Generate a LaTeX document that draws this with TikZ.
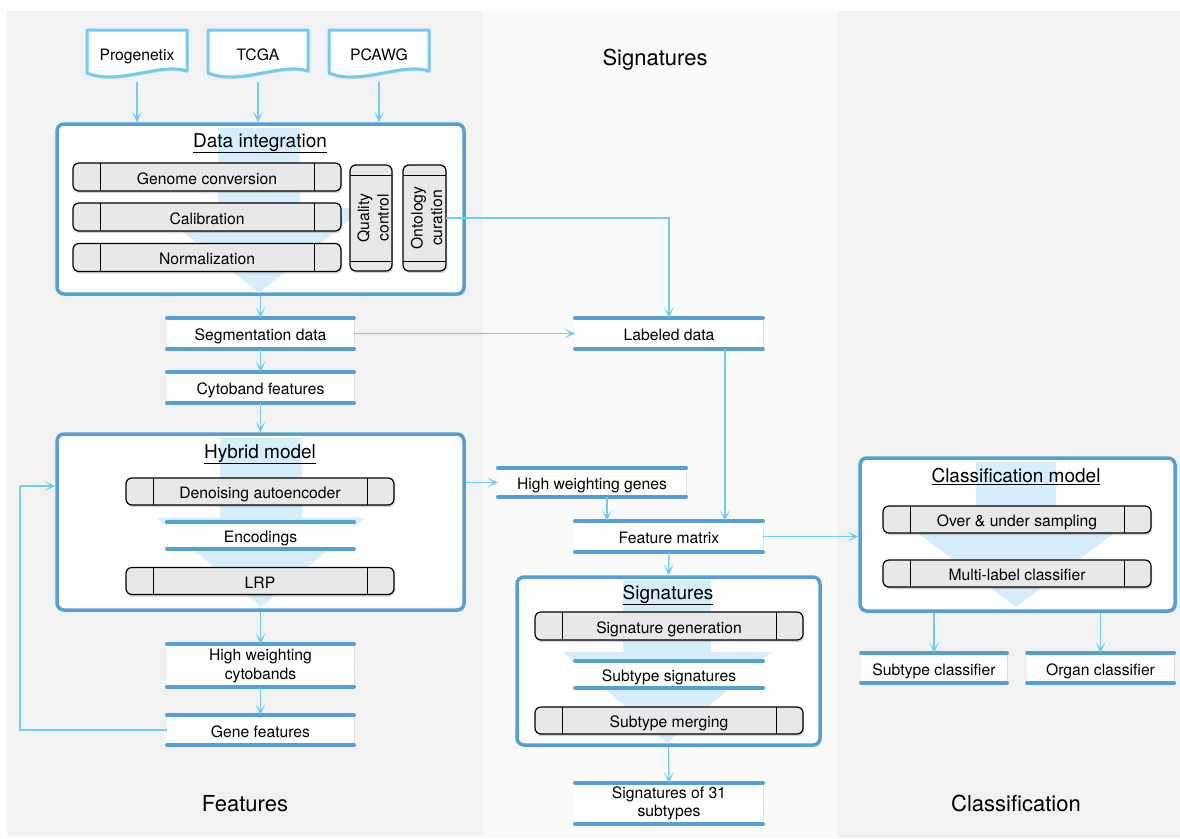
\documentclass[tikz,border=0pt]{standalone}
\usepackage{fontspec}
\setmainfont{TeX Gyre Heros}
\usetikzlibrary{arrows.meta,shadows,calc}

\definecolor{panelA}{RGB}{242,242,242}
\definecolor{panelB}{RGB}{250,250,250}
\definecolor{boxblue}{RGB}{84,160,212}
\definecolor{linkblue}{RGB}{112,204,246}
\definecolor{flowfill}{RGB}{214,237,251}
\definecolor{barfill}{RGB}{232,232,232}

\tikzset{
  base/.style={font=\fontsize{15.7}{19}\selectfont, inner sep=0pt},
  oneline/.style={text height=14pt, text depth=0pt},
  stage/.style={draw=boxblue, line width=3.5pt, fill=white, rounded corners=7pt,
    drop shadow={shadow xshift=1.5pt, shadow yshift=-2pt, opacity=0.25}},
  stagetitle/.style={font=\fontsize{19}{21}\selectfont, inner sep=0pt, anchor=base},
  procbar/.style={base, oneline, draw=black, line width=1.2pt, fill=barfill, rounded corners=6pt, outer sep=0pt,
    drop shadow={shadow xshift=1pt, shadow yshift=-2pt, opacity=0.35}},
  datum/.style={base, oneline, fill=white, minimum width=187pt, align=center, outer sep=0pt,
    drop shadow={shadow xshift=1pt, shadow yshift=-2pt, opacity=0.2}},
  twolines/.style={text height={}, text depth={}},
  innerdatum/.style={base, oneline, fill=white, minimum width=187pt, outer sep=0pt},
  barline/.style={boxblue, line width=4pt, line cap=round},
  link/.style={linkblue, line width=1.3pt, -{Stealth[length=11pt,width=10pt,inset=6.5pt]}},
  plainlink/.style={linkblue, line width=1.3pt},
  flow/.style={fill=flowfill},
  doc/.style={draw=linkblue, line width=3pt, fill=white, line join=round,
    drop shadow={shadow xshift=1pt, shadow yshift=-2pt, opacity=0.2}},
  panellabel/.style={font=\fontsize{22}{24}\selectfont, inner sep=0pt, anchor=base},
}

% big light-blue flow arrow: centre x, top y, shaft half width, shoulder y, head half width, tip y
\newcommand{\flowshape}[6]{%
  \fill[flow] (#1-#3,#2) -- (#1+#3,#2) -- (#1+#3,#4) -- (#1+#5,#4) -- (#1,#6)
    -- (#1-#5,#4) -- (#1-#3,#4) -- cycle;}

\begin{document}
\begin{tikzpicture}[x=1pt,y=-1pt]
\useasboundingbox (0,0) rectangle (1180,838);

% column backgrounds
\fill[panelA] (7,11) rectangle (483,836);
\fill[panelB] (483,11) rectangle (837,838);
\fill[panelA] (837,11) rectangle (1180,838);

\node[panellabel] (colsig) at (655,65) {Signatures};
\node[panellabel] (colfeat) at (245,811) {Features};
\node[panellabel] (colcls) at (1016,811) {Classification};

% data sources
\foreach \n/\x/\t in {prog/137/Progenetix, tcga/258/TCGA, pcawg/379/PCAWG} {
  \draw[doc] (\x-50,30) -- (\x+50,30) -- (\x+50,71)
     .. controls (\x+22,62) and (\x-18,86) .. (\x-50,73) -- cycle;
  \node[base, oneline, minimum width=100pt, minimum height=46pt] (\n) at (\x,53) {\t};
}

% stage boxes
\node[stage, minimum width=407pt, minimum height=170pt] (di)  at (260.5,209) {};
\node[stage, minimum width=407pt, minimum height=176pt] (hyb) at (260.5,522) {};
\node[stage, minimum width=303pt, minimum height=168pt] (sigbox) at (668.5,661) {};
\node[stage, minimum width=315pt, minimum height=153pt] (cls) at (1017.5,534.5) {};

% flow arrows inside the stages
\flowshape{259}{128}{41}{208}{105}{293}
\flowshape{261}{438}{41}{518}{104}{607}
\flowshape{667}{580}{44}{652}{104}{743}
\flowshape{1016}{462}{40}{533}{98}{607}

% stage titles
\node[stagetitle] (dititle)  at (260,147) {\underline{Data integration}};
\node[stagetitle] (hybtitle) at (260,458) {\underline{Hybrid model}};
\node[stagetitle] (sigtitle) at (668,599) {\underline{Signatures}};
\node[stagetitle] (clstitle) at (1016,482) {\underline{Classification model}};

% processing steps
\node[procbar, minimum width=268pt, minimum height=28pt] (gc)   at (207,177)   {Genome conversion};
\node[procbar, minimum width=268pt, minimum height=28pt] (cal)  at (207,217)   {Calibration};
\node[procbar, minimum width=268pt, minimum height=28pt] (norm) at (207,257.5) {Normalization};
\node[procbar, minimum width=268pt, minimum height=27pt] (dae)  at (260,491.5) {Denoising autoencoder};
\node[procbar, minimum width=268pt, minimum height=27pt] (lrp)  at (260,581)   {LRP};
\node[procbar, minimum width=268pt, minimum height=28pt] (sgen) at (669,626)   {Signature generation};
\node[procbar, minimum width=268pt, minimum height=27pt] (smerge) at (669,720.5) {Subtype merging};
\node[procbar, minimum width=268pt, minimum height=27pt] (ous)  at (1017,519.5) {Over \& under sampling};
\node[procbar, minimum width=268pt, minimum height=27pt] (mlc)  at (1017,573.5) {Multi-label classifier};
\foreach \n in {gc,cal,norm,dae,lrp,sgen,smerge,ous,mlc} {
  \draw[line width=1pt] ([xshift=27pt]\n.north west) -- ([xshift=27pt]\n.south west)
        ([xshift=-27pt]\n.north east) -- ([xshift=-27pt]\n.south east);
}

% vertical steps
\node[procbar, minimum width=42pt, minimum height=106pt] (qc)   at (371,218)   {};
\node[procbar, minimum width=43pt, minimum height=106pt] (onto) at (424.5,218) {};
\foreach \n in {qc,onto} {
  \draw[line width=1pt] ([yshift=-10pt]\n.north west) -- ([yshift=-10pt]\n.north east)
        ([yshift=10pt]\n.south west) -- ([yshift=10pt]\n.south east);
}
\node[base, rotate=90, align=center, font=\fontsize{15.7}{19.5}\selectfont] (qctext) at (373,218) {Quality\\control};
\node[base, rotate=90, align=center, font=\fontsize{15.7}{19.5}\selectfont] (ontotext) at (426.5,218) {Ontology\\curation};

% data products
\node[datum, minimum height=31pt] (seg)  at (260.5,333.5) {Segmentation data};
\node[datum, minimum height=31pt] (cyto) at (260.5,387.5) {Cytoband features};
\node[datum, twolines, minimum height=43pt] (hwc)  at (260.5,665.5) {High weighting\\cytobands};
\node[datum, minimum height=30pt] (gene) at (260.5,730)   {Gene features};
\node[datum, minimum width=188pt, minimum height=29pt] (hwg) at (592,482.5) {High weighting genes};
\node[datum, minimum width=188pt, minimum height=31pt] (lab) at (669,333.5) {Labeled data};
\node[datum, minimum width=188pt, minimum height=31pt] (fm)  at (669,536.5) {Feature matrix};
\node[datum, twolines, minimum width=188pt, minimum height=41pt, font=\fontsize{15.7}{18}\selectfont] (sig31) at (669,803.5) {Signatures of 31\\subtypes};
\node[datum, minimum width=146pt, minimum height=30pt] (subc) at (934,668)    {Subtype classifier};
\node[datum, minimum width=147pt, minimum height=30pt] (orgc) at (1100.5,668) {Organ classifier};
\node[innerdatum, minimum height=27pt] (enc) at (260.5,535.5) {Encodings};
\node[innerdatum, minimum width=188pt, minimum height=27pt] (subsig) at (669,674.5) {Subtype signatures};
\foreach \n in {seg,cyto,hwc,gene,hwg,lab,fm,sig31,subc,orgc,enc,subsig} {
  \draw[barline] (\n.north west) -- (\n.north east) (\n.south west) -- (\n.south east);
}

% connectors
\foreach \n in {prog,tcga,pcawg} {
  \draw[link] ([yshift=-6pt]\n.south) -- (\n.south |- di.north);
}
\draw[link] (onto.east) -| (lab.north);
\draw[link] (di.south) -- (seg.north);
\draw[link] (seg.south) -- (cyto.north);
\draw[link] (cyto.south) -- (hyb.north);
\draw[link] (seg.east) -- (lab.west);
\draw[link] ([xshift=56pt]lab.south) -- ([xshift=56pt]lab.south |- fm.north);
\draw[link] (hyb.east |- hwg.west) -- (hwg.west);
\draw[link] ([xshift=15pt]hwg.south) -- ([xshift=15pt]hwg.south |- fm.north);
\draw[link] (fm.south) -- (sigbox.north);
\draw[link] (fm.east) -- (fm.east -| cls.west);
\draw[link] (sigbox.south) -- (sig31.north);
\draw[link] (hyb.south) -- (hwc.north);
\draw[link] (hwc.south) -- (gene.north);
\coordinate (fb) at (20,486);
\draw[plainlink] (gene.west) -| (fb);
\draw[link] (fb) -- (fb -| hyb.west);
\draw[link] (cls.south -| subc) -- (subc.north);
\draw[link] (cls.south -| orgc) -- (orgc.north);
\end{tikzpicture}
\end{document}
